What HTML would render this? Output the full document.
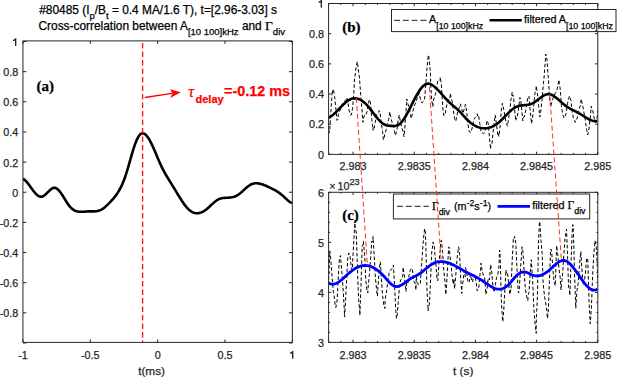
<!DOCTYPE html>
<html><head><meta charset="utf-8"><style>
html,body{margin:0;padding:0;background:#fff;}
body{width:617px;height:377px;overflow:hidden;}
svg{display:block;font-family:"Liberation Sans",sans-serif;}
text{stroke-width:0.25px;}
</style></head><body>
<svg width="617" height="377" viewBox="0 0 617 377">
<rect width="617" height="377" fill="#fff"/>
<!-- title -->
<text x="39.2" y="13.8" font-size="11.9" fill="#000" stroke="#000">#80485 (I<tspan dy="5" font-size="9.5">p</tspan><tspan dy="-5">/B</tspan><tspan dy="5" font-size="9.5">t</tspan><tspan dy="-5"> = 0.4 MA/1.6 T), t=[2.96-3.03] s</tspan></text>
<text x="38.5" y="29.6" font-size="11.9" fill="#000" stroke="#000">Cross-correlation between A<tspan dy="5.5" font-size="9.5">[10 100]kHz</tspan><tspan dy="-5.5"> and </tspan><tspan font-family="Liberation Serif" font-size="13.5">&#915;</tspan><tspan dy="5.5" font-size="9.5">div</tspan></text>
<!-- curves a -->
<g clip-path="url(#ca)">
<path d="M22.90,178.80 L23.90,179.37 L24.90,180.14 L25.90,181.09 L26.90,182.18 L27.90,183.39 L28.90,184.69 L29.90,186.04 L30.90,187.43 L31.90,188.82 L32.90,190.19 L33.90,191.50 L34.90,192.73 L35.90,193.85 L36.90,194.84 L37.90,195.65 L38.90,196.27 L39.90,196.66 L40.90,196.80 L41.90,196.67 L42.90,196.28 L43.90,195.69 L44.90,194.93 L45.90,194.05 L46.90,193.09 L47.90,192.10 L48.90,191.11 L49.90,190.18 L50.90,189.34 L51.90,188.64 L52.90,188.12 L53.90,187.83 L54.90,187.81 L55.90,188.09 L56.90,188.65 L57.90,189.45 L58.90,190.47 L59.90,191.68 L60.90,193.03 L61.90,194.50 L62.90,196.06 L63.90,197.67 L64.90,199.30 L65.90,200.92 L66.90,202.49 L67.90,203.99 L68.90,205.37 L69.90,206.62 L70.90,207.70 L71.90,208.62 L72.90,209.41 L73.90,210.06 L74.90,210.59 L75.90,211.00 L76.90,211.32 L77.90,211.55 L78.90,211.70 L79.90,211.79 L80.90,211.82 L81.90,211.80 L82.90,211.76 L83.90,211.69 L84.90,211.60 L85.90,211.52 L86.90,211.45 L87.90,211.40 L88.90,211.38 L89.90,211.38 L90.90,211.39 L91.90,211.40 L92.90,211.40 L93.90,211.38 L94.90,211.33 L95.90,211.24 L96.90,211.10 L97.90,210.90 L98.90,210.62 L99.90,210.27 L100.90,209.82 L101.90,209.28 L102.90,208.65 L103.90,207.94 L104.90,207.16 L105.90,206.31 L106.90,205.39 L107.90,204.43 L108.90,203.42 L109.90,202.38 L110.90,201.30 L111.90,200.20 L112.90,199.07 L113.90,197.89 L114.90,196.65 L115.90,195.34 L116.90,193.93 L117.90,192.41 L118.90,190.77 L119.90,189.00 L120.90,187.07 L121.90,184.97 L122.90,182.68 L123.90,180.20 L124.90,177.50 L125.90,174.58 L126.90,171.42 L127.90,168.09 L128.90,164.63 L129.90,161.11 L130.90,157.59 L131.90,154.12 L132.90,150.76 L133.90,147.57 L134.90,144.61 L135.90,141.93 L136.90,139.57 L137.90,137.57 L138.90,135.93 L139.90,134.70 L140.90,133.86 L141.90,133.41 L142.90,133.31 L143.90,133.55 L144.90,134.09 L145.90,134.92 L146.90,136.02 L147.90,137.35 L148.90,138.90 L149.90,140.64 L150.90,142.54 L151.90,144.59 L152.90,146.75 L153.90,149.01 L154.90,151.33 L155.90,153.70 L156.90,156.08 L157.90,158.45 L158.90,160.78 L159.90,163.06 L160.90,165.25 L161.90,167.33 L162.90,169.32 L163.90,171.22 L164.90,173.05 L165.90,174.81 L166.90,176.51 L167.90,178.18 L168.90,179.81 L169.90,181.41 L170.90,183.01 L171.90,184.61 L172.90,186.21 L173.90,187.84 L174.90,189.48 L175.90,191.14 L176.90,192.81 L177.90,194.47 L178.90,196.12 L179.90,197.74 L180.90,199.32 L181.90,200.87 L182.90,202.35 L183.90,203.78 L184.90,205.14 L185.90,206.41 L186.90,207.59 L187.90,208.67 L188.90,209.64 L189.90,210.49 L190.90,211.23 L191.90,211.84 L192.90,212.34 L193.90,212.73 L194.90,213.01 L195.90,213.19 L196.90,213.26 L197.90,213.23 L198.90,213.10 L199.90,212.88 L200.90,212.57 L201.90,212.17 L202.90,211.68 L203.90,211.11 L204.90,210.46 L205.90,209.73 L206.90,208.92 L207.90,208.07 L208.90,207.17 L209.90,206.24 L210.90,205.30 L211.90,204.36 L212.90,203.44 L213.90,202.56 L214.90,201.72 L215.90,200.95 L216.90,200.25 L217.90,199.65 L218.90,199.15 L219.90,198.76 L220.90,198.46 L221.90,198.24 L222.90,198.08 L223.90,197.97 L224.90,197.89 L225.90,197.82 L226.90,197.76 L227.90,197.70 L228.90,197.63 L229.90,197.54 L230.90,197.41 L231.90,197.25 L232.90,197.04 L233.90,196.77 L234.90,196.43 L235.90,196.02 L236.90,195.52 L237.90,194.92 L238.90,194.23 L239.90,193.46 L240.90,192.63 L241.90,191.76 L242.90,190.85 L243.90,189.94 L244.90,189.02 L245.90,188.13 L246.90,187.27 L247.90,186.46 L248.90,185.72 L249.90,185.06 L250.90,184.51 L251.90,184.06 L252.90,183.72 L253.90,183.47 L254.90,183.32 L255.90,183.25 L256.90,183.26 L257.90,183.34 L258.90,183.48 L259.90,183.69 L260.90,183.95 L261.90,184.25 L262.90,184.59 L263.90,184.97 L264.90,185.38 L265.90,185.80 L266.90,186.24 L267.90,186.69 L268.90,187.14 L269.90,187.60 L270.90,188.08 L271.90,188.56 L272.90,189.07 L273.90,189.59 L274.90,190.15 L275.90,190.72 L276.90,191.34 L277.90,191.98 L278.90,192.67 L279.90,193.39 L280.90,194.16 L281.90,194.98 L282.90,195.85 L283.90,196.77 L284.90,197.70 L285.90,198.65 L286.90,199.57 L287.90,200.46 L288.90,201.28 L289.90,202.02 L290.90,202.67 L291.90,203.18" fill="none" stroke="#000" stroke-width="2.6" stroke-linejoin="round"/>
</g>
<line x1="142.6" y1="43" x2="142.6" y2="342.3" stroke="#ff1a1a" stroke-width="1.4" stroke-dasharray="5.5 3"/>
<!-- (b) noise & filtered -->
<defs>
<clipPath id="ca"><rect x="22.95" y="40.9" width="269.40000000000003" height="301.5"/></clipPath>
<clipPath id="cb"><rect x="328.6" y="3.5" width="269.19999999999993" height="150.9"/></clipPath>
<clipPath id="cc"><rect x="328.6" y="192.3" width="269.19999999999993" height="150.09999999999997"/></clipPath>
</defs>
<g clip-path="url(#cb)">
<path d="M328.60,130.00 L329.50,132.50 L329.80,128.88 L331.00,109.95 L332.20,91.34 L332.40,93.10 L333.40,88.90 L334.60,96.48 L335.80,108.08 L337.00,120.39 L338.20,118.99 L338.20,115.00 L339.40,112.08 L340.60,108.39 L341.80,104.63 L343.00,103.26 L344.20,102.18 L345.40,100.05 L346.60,99.64 L347.00,97.50 L347.80,100.93 L349.00,109.96 L350.20,114.79 L351.30,115.00 L351.40,114.78 L352.60,108.35 L353.80,93.12 L354.50,80.00 L355.00,76.01 L356.20,66.86 L357.20,62.00 L357.40,61.62 L358.60,72.19 L359.50,78.00 L359.80,82.63 L361.00,98.41 L362.20,112.21 L363.00,122.30 L363.40,118.57 L364.60,114.82 L365.80,115.00 L367.00,111.94 L368.20,104.42 L369.40,99.53 L370.30,101.90 L370.60,104.17 L371.80,119.40 L373.00,130.23 L373.20,126.60 L374.20,128.20 L375.40,121.22 L376.60,114.79 L377.80,113.43 L379.00,112.36 L379.00,110.60 L380.20,113.70 L381.40,123.94 L382.60,131.82 L383.40,139.80 L383.80,139.47 L385.00,133.28 L386.20,129.31 L387.40,124.47 L388.60,119.39 L389.80,111.87 L390.70,116.40 L391.00,118.32 L392.20,122.84 L393.40,124.75 L394.60,131.53 L395.00,135.40 L395.80,134.25 L397.00,129.26 L398.20,118.90 L399.40,115.00 L399.40,116.40 L400.60,122.24 L401.80,128.06 L403.00,131.06 L403.80,135.40 L404.20,136.78 L405.40,119.12 L406.60,103.47 L406.70,98.90 L407.80,103.51 L409.00,107.29 L410.20,112.66 L411.00,118.00 L411.40,118.52 L412.60,112.35 L413.80,107.44 L415.00,104.29 L416.20,101.35 L417.40,97.14 L418.40,96.00 L418.60,90.23 L419.80,95.96 L421.00,101.74 L422.20,102.82 L423.40,101.43 L424.20,100.40 L424.60,99.16 L425.80,84.65 L426.50,75.00 L427.00,68.20 L428.20,55.70 L428.60,55.00 L429.40,62.03 L430.50,74.00 L430.60,84.04 L431.80,101.26 L433.00,106.80 L433.00,103.30 L434.20,97.55 L435.40,94.67 L436.60,88.24 L437.80,80.05 L439.00,80.56 L440.20,79.35 L440.20,77.10 L441.40,84.47 L442.60,105.10 L443.20,112.00 L443.80,115.67 L445.00,114.99 L446.20,107.83 L447.40,102.59 L448.60,99.54 L449.80,99.36 L450.40,93.10 L451.00,97.77 L452.20,101.26 L453.40,110.61 L454.60,118.54 L454.80,119.30 L455.80,121.29 L457.00,114.87 L458.20,110.30 L459.40,107.58 L460.60,103.86 L460.70,106.20 L461.80,109.32 L463.00,113.32 L464.20,109.05 L464.50,107.70 L465.40,104.39 L466.60,111.02 L467.80,122.82 L469.00,130.90 L470.20,132.48 L470.30,131.00 L471.40,130.80 L472.60,126.23 L473.80,119.82 L475.00,117.69 L476.20,116.39 L477.40,113.81 L477.60,116.40 L478.60,115.43 L479.80,123.52 L481.00,131.61 L482.00,132.50 L482.20,132.72 L483.40,133.85 L484.60,132.60 L485.80,127.98 L487.00,120.45 L487.80,122.30 L488.20,123.30 L489.40,136.74 L490.60,149.21 L490.70,145.60 L491.80,145.28 L493.00,132.91 L494.20,122.46 L495.10,115.00 L495.40,115.90 L496.60,125.68 L497.80,134.46 L498.00,132.50 L499.00,136.41 L500.20,124.94 L501.40,109.35 L502.40,103.30 L502.60,104.22 L503.80,109.79 L505.00,116.47 L506.20,123.47 L506.70,123.70 L507.40,126.18 L508.60,118.30 L509.80,110.03 L511.00,99.28 L512.20,92.24 L512.60,96.00 L513.40,95.32 L514.60,110.01 L515.80,120.77 L516.00,118.00 L517.00,118.56 L518.20,111.14 L519.40,101.34 L519.90,97.50 L520.60,98.64 L521.80,110.62 L522.80,120.80 L523.00,117.64 L524.20,116.96 L525.40,112.19 L526.60,105.62 L527.80,97.51 L528.60,96.00 L529.00,96.69 L530.20,110.65 L531.40,122.54 L531.50,123.70 L532.60,118.04 L533.80,104.89 L535.00,92.20 L535.90,91.60 L536.20,85.71 L537.40,93.63 L538.60,105.15 L539.80,116.92 L540.30,115.00 L541.00,109.35 L542.20,98.55 L543.40,83.36 L544.00,78.00 L544.60,69.87 L545.80,54.02 L546.10,56.00 L547.00,59.25 L548.00,75.00 L548.20,76.11 L549.40,94.11 L550.50,106.20 L550.60,107.26 L551.80,101.96 L553.00,98.38 L554.20,95.54 L555.40,92.80 L556.60,91.88 L557.80,85.78 L559.00,79.81 L559.20,82.90 L560.20,88.82 L561.40,105.27 L562.60,114.47 L563.60,116.40 L563.80,118.01 L565.00,116.59 L566.20,113.17 L567.40,103.84 L568.60,98.88 L569.40,96.00 L569.80,97.05 L571.00,100.69 L572.20,111.60 L573.40,117.86 L574.60,120.46 L575.20,122.30 L575.80,119.40 L577.00,118.85 L578.20,114.49 L579.40,108.33 L580.60,104.39 L581.10,98.90 L581.80,101.86 L583.00,107.28 L584.20,113.86 L585.40,120.75 L586.60,129.50 L587.80,134.82 L588.40,131.00 L589.00,128.83 L590.20,117.91 L591.30,106.20 L591.40,107.90 L592.60,109.29 L593.80,116.65 L595.00,122.07 L595.70,122.30 L596.20,121.58 L597.40,115.78 L597.80,110.00" fill="none" stroke="#000" stroke-width="1.0" stroke-dasharray="3.5 2.2"/>
<path d="M328.50,117.80 L329.50,117.29 L330.50,116.69 L331.50,116.00 L332.50,115.23 L333.50,114.39 L334.50,113.49 L335.50,112.55 L336.50,111.57 L337.50,110.55 L338.50,109.52 L339.50,108.48 L340.50,107.44 L341.50,106.42 L342.50,105.41 L343.50,104.43 L344.50,103.49 L345.50,102.60 L346.50,101.78 L347.50,101.02 L348.50,100.34 L349.50,99.74 L350.50,99.25 L351.50,98.86 L352.50,98.58 L353.50,98.40 L354.50,98.32 L355.50,98.34 L356.50,98.46 L357.50,98.68 L358.50,98.99 L359.50,99.39 L360.50,99.88 L361.50,100.46 L362.50,101.13 L363.50,101.89 L364.50,102.73 L365.50,103.65 L366.50,104.66 L367.50,105.74 L368.50,106.90 L369.50,108.11 L370.50,109.37 L371.50,110.66 L372.50,111.98 L373.50,113.30 L374.50,114.61 L375.50,115.90 L376.50,117.17 L377.50,118.38 L378.50,119.54 L379.50,120.63 L380.50,121.64 L381.50,122.54 L382.50,123.34 L383.50,124.01 L384.50,124.55 L385.50,124.97 L386.50,125.28 L387.50,125.50 L388.50,125.66 L389.50,125.77 L390.50,125.84 L391.50,125.90 L392.50,125.95 L393.50,125.97 L394.50,125.93 L395.50,125.81 L396.50,125.59 L397.50,125.24 L398.50,124.74 L399.50,124.07 L400.50,123.23 L401.50,122.20 L402.50,121.00 L403.50,119.63 L404.50,118.13 L405.50,116.51 L406.50,114.78 L407.50,112.96 L408.50,111.07 L409.50,109.12 L410.50,107.14 L411.50,105.14 L412.50,103.14 L413.50,101.16 L414.50,99.20 L415.50,97.30 L416.50,95.46 L417.50,93.71 L418.50,92.05 L419.50,90.51 L420.50,89.10 L421.50,87.81 L422.50,86.68 L423.50,85.71 L424.50,84.91 L425.50,84.29 L426.50,83.87 L427.50,83.65 L428.50,83.65 L429.50,83.84 L430.50,84.19 L431.50,84.69 L432.50,85.30 L433.50,86.00 L434.50,86.78 L435.50,87.64 L436.50,88.56 L437.50,89.55 L438.50,90.58 L439.50,91.64 L440.50,92.74 L441.50,93.86 L442.50,94.99 L443.50,96.13 L444.50,97.25 L445.50,98.37 L446.50,99.45 L447.50,100.51 L448.50,101.52 L449.50,102.49 L450.50,103.40 L451.50,104.28 L452.50,105.14 L453.50,105.98 L454.50,106.82 L455.50,107.66 L456.50,108.53 L457.50,109.42 L458.50,110.35 L459.50,111.34 L460.50,112.38 L461.50,113.48 L462.50,114.61 L463.50,115.75 L464.50,116.89 L465.50,117.99 L466.50,119.04 L467.50,120.04 L468.50,120.97 L469.50,121.86 L470.50,122.69 L471.50,123.46 L472.50,124.17 L473.50,124.83 L474.50,125.43 L475.50,125.98 L476.50,126.47 L477.50,126.90 L478.50,127.27 L479.50,127.59 L480.50,127.85 L481.50,128.06 L482.50,128.20 L483.50,128.29 L484.50,128.32 L485.50,128.30 L486.50,128.21 L487.50,128.07 L488.50,127.87 L489.50,127.61 L490.50,127.29 L491.50,126.92 L492.50,126.48 L493.50,125.99 L494.50,125.44 L495.50,124.83 L496.50,124.16 L497.50,123.44 L498.50,122.65 L499.50,121.80 L500.50,120.90 L501.50,119.96 L502.50,118.98 L503.50,117.97 L504.50,116.95 L505.50,115.92 L506.50,114.89 L507.50,113.87 L508.50,112.87 L509.50,111.91 L510.50,110.98 L511.50,110.11 L512.50,109.29 L513.50,108.54 L514.50,107.87 L515.50,107.29 L516.50,106.80 L517.50,106.40 L518.50,106.08 L519.50,105.83 L520.50,105.63 L521.50,105.48 L522.50,105.35 L523.50,105.25 L524.50,105.16 L525.50,105.06 L526.50,104.95 L527.50,104.81 L528.50,104.64 L529.50,104.42 L530.50,104.14 L531.50,103.79 L532.50,103.35 L533.50,102.83 L534.50,102.22 L535.50,101.55 L536.50,100.82 L537.50,100.07 L538.50,99.29 L539.50,98.52 L540.50,97.76 L541.50,97.03 L542.50,96.34 L543.50,95.72 L544.50,95.18 L545.50,94.73 L546.50,94.39 L547.50,94.17 L548.50,94.10 L549.50,94.18 L550.50,94.40 L551.50,94.75 L552.50,95.21 L553.50,95.78 L554.50,96.43 L555.50,97.16 L556.50,97.95 L557.50,98.79 L558.50,99.66 L559.50,100.56 L560.50,101.46 L561.50,102.36 L562.50,103.24 L563.50,104.09 L564.50,104.89 L565.50,105.65 L566.50,106.36 L567.50,107.02 L568.50,107.65 L569.50,108.25 L570.50,108.83 L571.50,109.38 L572.50,109.91 L573.50,110.43 L574.50,110.95 L575.50,111.46 L576.50,111.97 L577.50,112.49 L578.50,113.03 L579.50,113.58 L580.50,114.15 L581.50,114.75 L582.50,115.36 L583.50,115.99 L584.50,116.63 L585.50,117.25 L586.50,117.86 L587.50,118.45 L588.50,119.00 L589.50,119.51 L590.50,119.97 L591.50,120.37 L592.50,120.69 L593.50,120.94 L594.50,121.09 L595.50,121.15 L596.50,121.10 L597.50,120.94" fill="none" stroke="#000" stroke-width="2.6" stroke-linejoin="round"/>
</g>
<g clip-path="url(#cc)">
<path d="M328.60,280.00 L329.80,250.89 L330.50,256.40 L331.00,262.11 L332.20,278.74 L333.40,292.13 L334.60,298.83 L335.00,304.00 L335.80,307.56 L337.00,302.07 L338.20,280.10 L339.40,258.06 L340.60,255.57 L340.70,259.60 L341.80,271.22 L343.00,287.18 L344.20,307.77 L344.60,317.00 L345.40,303.15 L346.60,280.30 L347.80,257.29 L348.70,253.20 L349.00,253.01 L350.20,257.02 L351.40,268.94 L352.50,270.00 L352.60,262.38 L353.80,240.95 L355.00,220.29 L355.10,227.00 L356.20,231.83 L357.40,266.52 L358.60,299.54 L359.80,310.97 L359.80,315.30 L361.00,285.41 L362.20,245.79 L363.00,245.00 L363.40,241.19 L364.60,254.80 L365.80,279.76 L367.00,291.03 L367.80,293.00 L368.20,286.12 L369.40,274.24 L370.60,258.39 L371.80,240.97 L372.60,242.00 L373.00,236.63 L374.20,255.73 L375.40,277.52 L376.60,289.74 L377.40,296.20 L377.80,289.40 L379.00,272.76 L380.20,261.83 L380.50,262.80 L381.40,279.01 L382.60,295.85 L383.80,305.12 L385.00,308.48 L385.00,300.00 L386.20,293.71 L387.40,284.74 L388.60,279.46 L389.00,272.00 L389.80,270.65 L391.00,269.62 L392.20,268.78 L393.30,266.00 L393.40,265.21 L394.60,285.84 L395.80,311.27 L396.50,318.50 L397.00,316.97 L398.20,302.70 L399.40,287.39 L400.60,279.84 L401.80,279.02 L402.80,275.50 L403.00,267.24 L404.20,274.31 L405.40,286.34 L406.00,291.40 L406.60,282.87 L407.80,284.04 L409.00,275.33 L410.20,270.54 L411.40,268.30 L412.40,269.00 L412.60,270.93 L413.80,281.34 L415.00,283.06 L416.00,290.00 L416.20,276.54 L417.40,282.58 L418.60,285.12 L419.80,284.03 L420.30,283.50 L421.00,273.56 L422.20,256.52 L423.40,239.34 L424.60,229.06 L425.10,229.00 L425.80,242.96 L427.00,290.10 L428.20,310.92 L428.30,307.40 L429.40,304.42 L430.60,279.34 L431.80,251.07 L433.00,244.50 L433.00,242.00 L434.20,245.44 L435.40,259.41 L436.60,272.38 L437.00,280.00 L437.80,280.74 L439.00,262.57 L440.20,250.55 L441.00,240.50 L441.40,240.33 L442.60,252.39 L443.80,270.18 L445.00,281.83 L445.80,294.60 L446.20,290.66 L447.40,271.44 L448.60,247.39 L449.00,246.80 L449.80,253.91 L451.00,264.33 L452.20,277.14 L453.40,284.29 L453.80,278.70 L454.60,288.82 L455.80,275.00 L457.00,259.19 L458.20,249.35 L458.60,246.80 L459.40,250.38 L460.60,275.95 L461.80,293.53 L462.00,285.00 L463.00,282.40 L464.20,270.57 L465.40,276.71 L465.50,267.50 L466.60,271.11 L467.80,281.24 L469.00,280.25 L469.40,281.90 L470.20,273.93 L471.40,278.86 L472.60,282.01 L473.80,274.40 L474.00,275.50 L475.00,275.88 L476.20,282.57 L477.00,290.00 L477.40,290.90 L478.60,288.88 L479.80,276.15 L480.50,270.70 L481.00,263.14 L482.20,271.07 L483.40,275.54 L484.60,277.16 L485.30,286.70 L485.80,294.39 L487.00,289.95 L488.20,278.18 L489.40,279.92 L490.00,274.00 L490.60,264.51 L491.80,272.50 L493.00,286.80 L494.00,292.00 L494.20,292.11 L495.40,284.37 L496.60,277.34 L497.80,274.92 L499.00,265.75 L499.60,250.00 L500.20,257.25 L501.40,301.91 L502.60,320.64 L502.80,321.70 L503.80,309.71 L505.00,287.07 L506.00,270.00 L506.20,272.78 L507.40,271.94 L508.60,282.84 L509.80,294.45 L510.80,289.80 L511.00,290.28 L512.20,260.24 L513.40,238.22 L514.00,238.90 L514.60,236.50 L515.80,243.14 L517.00,268.88 L518.20,292.04 L518.70,293.00 L519.40,286.95 L520.60,267.79 L521.80,251.15 L522.00,246.80 L523.00,252.22 L524.20,273.31 L525.40,289.01 L526.60,296.19 L527.80,300.70 L528.30,294.60 L529.00,292.56 L530.20,272.65 L531.40,259.69 L531.50,264.40 L532.60,278.62 L533.80,307.20 L535.00,322.79 L536.20,333.35 L536.20,323.30 L537.40,296.39 L538.60,239.47 L539.40,223.00 L539.80,221.52 L541.00,240.47 L542.20,254.16 L543.00,280.00 L543.40,286.00 L544.60,297.11 L545.80,303.93 L547.00,312.15 L547.40,318.50 L548.20,313.18 L549.40,281.17 L550.60,249.55 L551.00,249.00 L551.80,253.20 L553.00,270.92 L554.20,282.43 L555.40,285.76 L555.40,281.90 L556.60,245.53 L557.00,249.00 L557.80,254.72 L559.00,268.89 L560.20,277.47 L561.00,290.00 L561.40,284.64 L562.60,274.75 L563.80,255.44 L565.00,238.47 L566.20,231.38 L566.50,229.30 L567.40,250.83 L568.60,287.60 L569.50,290.00 L569.80,295.44 L571.00,263.52 L572.20,232.00 L572.90,224.60 L573.40,231.28 L574.60,275.02 L575.80,308.26 L576.00,304.20 L577.00,290.18 L578.20,283.22 L579.40,266.39 L580.60,253.11 L580.80,251.60 L581.80,267.20 L583.00,284.66 L584.00,285.00 L584.20,282.95 L585.40,273.27 L586.60,258.88 L587.20,258.00 L587.80,260.30 L589.00,299.61 L590.20,323.76 L590.40,321.70 L591.40,307.85 L592.60,275.80 L593.80,254.63 L595.00,240.70 L595.20,242.00 L596.20,245.93 L597.40,267.45 L597.80,280.00" fill="none" stroke="#000" stroke-width="1.0" stroke-dasharray="3.5 2.2"/>
<path d="M328.50,282.83 L329.50,283.43 L330.50,283.85 L331.50,284.11 L332.50,284.21 L333.50,284.16 L334.50,283.99 L335.50,283.69 L336.50,283.27 L337.50,282.76 L338.50,282.16 L339.50,281.47 L340.50,280.72 L341.50,279.91 L342.50,279.06 L343.50,278.16 L344.50,277.24 L345.50,276.31 L346.50,275.37 L347.50,274.44 L348.50,273.53 L349.50,272.65 L350.50,271.81 L351.50,271.01 L352.50,270.26 L353.50,269.57 L354.50,268.92 L355.50,268.33 L356.50,267.79 L357.50,267.31 L358.50,266.88 L359.50,266.51 L360.50,266.19 L361.50,265.93 L362.50,265.74 L363.50,265.60 L364.50,265.52 L365.50,265.51 L366.50,265.56 L367.50,265.68 L368.50,265.86 L369.50,266.10 L370.50,266.41 L371.50,266.78 L372.50,267.21 L373.50,267.70 L374.50,268.25 L375.50,268.86 L376.50,269.53 L377.50,270.26 L378.50,271.04 L379.50,271.88 L380.50,272.77 L381.50,273.72 L382.50,274.72 L383.50,275.78 L384.50,276.88 L385.50,278.02 L386.50,279.17 L387.50,280.31 L388.50,281.42 L389.50,282.47 L390.50,283.45 L391.50,284.34 L392.50,285.10 L393.50,285.72 L394.50,286.18 L395.50,286.46 L396.50,286.56 L397.50,286.50 L398.50,286.29 L399.50,285.96 L400.50,285.52 L401.50,284.99 L402.50,284.39 L403.50,283.73 L404.50,283.02 L405.50,282.28 L406.50,281.53 L407.50,280.77 L408.50,280.03 L409.50,279.31 L410.50,278.64 L411.50,278.02 L412.50,277.47 L413.50,276.98 L414.50,276.51 L415.50,276.04 L416.50,275.56 L417.50,275.02 L418.50,274.42 L419.50,273.76 L420.50,273.06 L421.50,272.31 L422.50,271.53 L423.50,270.72 L424.50,269.91 L425.50,269.09 L426.50,268.27 L427.50,267.46 L428.50,266.67 L429.50,265.92 L430.50,265.20 L431.50,264.53 L432.50,263.91 L433.50,263.36 L434.50,262.89 L435.50,262.49 L436.50,262.16 L437.50,261.91 L438.50,261.72 L439.50,261.60 L440.50,261.54 L441.50,261.54 L442.50,261.60 L443.50,261.71 L444.50,261.87 L445.50,262.07 L446.50,262.33 L447.50,262.62 L448.50,262.95 L449.50,263.32 L450.50,263.72 L451.50,264.15 L452.50,264.61 L453.50,265.09 L454.50,265.60 L455.50,266.12 L456.50,266.65 L457.50,267.20 L458.50,267.76 L459.50,268.33 L460.50,268.90 L461.50,269.47 L462.50,270.04 L463.50,270.60 L464.50,271.15 L465.50,271.70 L466.50,272.23 L467.50,272.75 L468.50,273.26 L469.50,273.76 L470.50,274.26 L471.50,274.75 L472.50,275.25 L473.50,275.75 L474.50,276.26 L475.50,276.77 L476.50,277.29 L477.50,277.83 L478.50,278.38 L479.50,278.95 L480.50,279.54 L481.50,280.16 L482.50,280.80 L483.50,281.46 L484.50,282.14 L485.50,282.84 L486.50,283.53 L487.50,284.22 L488.50,284.90 L489.50,285.55 L490.50,286.18 L491.50,286.77 L492.50,287.31 L493.50,287.81 L494.50,288.24 L495.50,288.60 L496.50,288.89 L497.50,289.10 L498.50,289.21 L499.50,289.22 L500.50,289.13 L501.50,288.94 L502.50,288.65 L503.50,288.25 L504.50,287.75 L505.50,287.15 L506.50,286.44 L507.50,285.64 L508.50,284.73 L509.50,283.72 L510.50,282.61 L511.50,281.41 L512.50,280.18 L513.50,278.94 L514.50,277.73 L515.50,276.61 L516.50,275.59 L517.50,274.71 L518.50,273.95 L519.50,273.32 L520.50,272.81 L521.50,272.42 L522.50,272.16 L523.50,272.03 L524.50,272.01 L525.50,272.12 L526.50,272.36 L527.50,272.71 L528.50,273.16 L529.50,273.66 L530.50,274.18 L531.50,274.68 L532.50,275.13 L533.50,275.48 L534.50,275.73 L535.50,275.89 L536.50,275.95 L537.50,275.93 L538.50,275.82 L539.50,275.63 L540.50,275.36 L541.50,275.01 L542.50,274.60 L543.50,274.11 L544.50,273.55 L545.50,272.93 L546.50,272.25 L547.50,271.52 L548.50,270.73 L549.50,269.89 L550.50,269.00 L551.50,268.09 L552.50,267.16 L553.50,266.23 L554.50,265.32 L555.50,264.44 L556.50,263.61 L557.50,262.84 L558.50,262.15 L559.50,261.55 L560.50,261.06 L561.50,260.70 L562.50,260.48 L563.50,260.41 L564.50,260.51 L565.50,260.79 L566.50,261.23 L567.50,261.82 L568.50,262.55 L569.50,263.40 L570.50,264.37 L571.50,265.45 L572.50,266.61 L573.50,267.85 L574.50,269.15 L575.50,270.51 L576.50,271.91 L577.50,273.34 L578.50,274.78 L579.50,276.23 L580.50,277.67 L581.50,279.09 L582.50,280.48 L583.50,281.83 L584.50,283.11 L585.50,284.33 L586.50,285.47 L587.50,286.51 L588.50,287.45 L589.50,288.27 L590.50,288.96 L591.50,289.51 L592.50,289.90 L593.50,290.13 L594.50,290.18 L595.50,290.04 L596.50,289.69 L597.50,289.13" fill="none" stroke="#0000ff" stroke-width="2.8" stroke-linejoin="round"/>
</g>
<!-- axes -->
<path d="M22.95,40.9 H292.35 V342.4 H22.95 Z M328.6,3.5 H597.8 V154.4 H328.6 Z M328.6,192.3 H597.8 V342.4 H328.6 Z" fill="none" stroke="#262626" stroke-width="1"/>
<path d="M22.95,342.4 v-3 M22.95,40.9 v3 M90.30,342.4 v-3 M90.30,40.9 v3 M157.65,342.4 v-3 M157.65,40.9 v3 M225.00,342.4 v-3 M225.00,40.9 v3 M292.35,342.4 v-3 M292.35,40.9 v3 M22.95,343.00 h3.4 M292.35,343.00 h-3.4 M22.95,312.85 h3.4 M292.35,312.85 h-3.4 M22.95,282.70 h3.4 M292.35,282.70 h-3.4 M22.95,252.55 h3.4 M292.35,252.55 h-3.4 M22.95,222.40 h3.4 M292.35,222.40 h-3.4 M22.95,192.25 h3.4 M292.35,192.25 h-3.4 M22.95,162.10 h3.4 M292.35,162.10 h-3.4 M22.95,131.95 h3.4 M292.35,131.95 h-3.4 M22.95,101.80 h3.4 M292.35,101.80 h-3.4 M22.95,71.65 h3.4 M292.35,71.65 h-3.4 M22.95,41.50 h3.4 M292.35,41.50 h-3.4 M328.60,154.4 v-1.5 M328.60,3.5 v1.5 M340.84,154.4 v-1.5 M340.84,3.5 v1.5 M353.07,154.4 v-2.7 M353.07,3.5 v2.7 M365.31,154.4 v-1.5 M365.31,3.5 v1.5 M377.55,154.4 v-1.5 M377.55,3.5 v1.5 M389.78,154.4 v-1.5 M389.78,3.5 v1.5 M402.02,154.4 v-1.5 M402.02,3.5 v1.5 M414.25,154.4 v-2.7 M414.25,3.5 v2.7 M426.49,154.4 v-1.5 M426.49,3.5 v1.5 M438.73,154.4 v-1.5 M438.73,3.5 v1.5 M450.96,154.4 v-1.5 M450.96,3.5 v1.5 M463.20,154.4 v-1.5 M463.20,3.5 v1.5 M475.44,154.4 v-2.7 M475.44,3.5 v2.7 M487.67,154.4 v-1.5 M487.67,3.5 v1.5 M499.91,154.4 v-1.5 M499.91,3.5 v1.5 M512.15,154.4 v-1.5 M512.15,3.5 v1.5 M524.38,154.4 v-1.5 M524.38,3.5 v1.5 M536.62,154.4 v-2.7 M536.62,3.5 v2.7 M548.85,154.4 v-1.5 M548.85,3.5 v1.5 M561.09,154.4 v-1.5 M561.09,3.5 v1.5 M573.33,154.4 v-1.5 M573.33,3.5 v1.5 M585.56,154.4 v-1.5 M585.56,3.5 v1.5 M597.80,154.4 v-2.7 M597.80,3.5 v2.7 M328.60,342.4 v-1.5 M328.60,192.3 v1.5 M340.84,342.4 v-1.5 M340.84,192.3 v1.5 M353.07,342.4 v-2.7 M353.07,192.3 v2.7 M365.31,342.4 v-1.5 M365.31,192.3 v1.5 M377.55,342.4 v-1.5 M377.55,192.3 v1.5 M389.78,342.4 v-1.5 M389.78,192.3 v1.5 M402.02,342.4 v-1.5 M402.02,192.3 v1.5 M414.25,342.4 v-2.7 M414.25,192.3 v2.7 M426.49,342.4 v-1.5 M426.49,192.3 v1.5 M438.73,342.4 v-1.5 M438.73,192.3 v1.5 M450.96,342.4 v-1.5 M450.96,192.3 v1.5 M463.20,342.4 v-1.5 M463.20,192.3 v1.5 M475.44,342.4 v-2.7 M475.44,192.3 v2.7 M487.67,342.4 v-1.5 M487.67,192.3 v1.5 M499.91,342.4 v-1.5 M499.91,192.3 v1.5 M512.15,342.4 v-1.5 M512.15,192.3 v1.5 M524.38,342.4 v-1.5 M524.38,192.3 v1.5 M536.62,342.4 v-2.7 M536.62,192.3 v2.7 M548.85,342.4 v-1.5 M548.85,192.3 v1.5 M561.09,342.4 v-1.5 M561.09,192.3 v1.5 M573.33,342.4 v-1.5 M573.33,192.3 v1.5 M585.56,342.4 v-1.5 M585.56,192.3 v1.5 M597.80,342.4 v-2.7 M597.80,192.3 v2.7 M328.6,154.40 h2.7 M597.8,154.40 h-2.7 M328.6,124.22 h2.7 M597.8,124.22 h-2.7 M328.6,94.04 h2.7 M597.8,94.04 h-2.7 M328.6,63.86 h2.7 M597.8,63.86 h-2.7 M328.6,33.68 h2.7 M597.8,33.68 h-2.7 M328.6,3.50 h2.7 M597.8,3.50 h-2.7 M328.6,342.40 h2.7 M597.8,342.40 h-2.7 M328.6,332.39 h1.5 M597.8,332.39 h-1.5 M328.6,322.39 h1.5 M597.8,322.39 h-1.5 M328.6,312.38 h1.5 M597.8,312.38 h-1.5 M328.6,302.37 h1.5 M597.8,302.37 h-1.5 M328.6,292.37 h2.7 M597.8,292.37 h-2.7 M328.6,282.36 h1.5 M597.8,282.36 h-1.5 M328.6,272.35 h1.5 M597.8,272.35 h-1.5 M328.6,262.35 h1.5 M597.8,262.35 h-1.5 M328.6,252.34 h1.5 M597.8,252.34 h-1.5 M328.6,242.33 h2.7 M597.8,242.33 h-2.7 M328.6,232.33 h1.5 M597.8,232.33 h-1.5 M328.6,222.32 h1.5 M597.8,222.32 h-1.5 M328.6,212.31 h1.5 M597.8,212.31 h-1.5 M328.6,202.31 h1.5 M597.8,202.31 h-1.5 M328.6,192.30 h2.7 M597.8,192.30 h-2.7" fill="none" stroke="#262626" stroke-width="1"/>
<g fill="#262626" stroke="#262626">
<text x="18.30" y="317.35" text-anchor="end" font-size="10.8" >-0.8</text><text x="18.30" y="287.20" text-anchor="end" font-size="10.8" >-0.6</text><text x="18.30" y="257.05" text-anchor="end" font-size="10.8" >-0.4</text><text x="18.30" y="226.90" text-anchor="end" font-size="10.8" >-0.2</text><text x="18.30" y="196.75" text-anchor="end" font-size="10.8" >0</text><text x="18.30" y="166.60" text-anchor="end" font-size="10.8" >0.2</text><text x="18.30" y="136.45" text-anchor="end" font-size="10.8" >0.4</text><text x="18.30" y="106.30" text-anchor="end" font-size="10.8" >0.6</text><text x="18.30" y="76.15" text-anchor="end" font-size="10.8" >0.8</text><path d="M15.66,46.00 V38.27 M15.96,38.67 C15.06,40.07 14.06,40.37 13.06,40.57" fill="none" stroke-width="1.35"/><text x="22.95" y="358.70" text-anchor="middle" font-size="10.8" >-1</text><text x="90.30" y="358.70" text-anchor="middle" font-size="10.8" >-0.5</text><text x="157.65" y="358.70" text-anchor="middle" font-size="10.8" >0</text><text x="225.00" y="358.70" text-anchor="middle" font-size="10.8" >0.5</text><path d="M292.71,358.70 V350.97 M293.01,351.37 C292.11,352.77 291.11,353.07 290.11,353.27" fill="none" stroke-width="1.35"/><text x="151.60" y="374.60" text-anchor="middle" font-size="11.8" >t(ms)</text><text x="324.00" y="158.60" text-anchor="end" font-size="10.8" >0</text><text x="324.00" y="128.42" text-anchor="end" font-size="10.8" >0.2</text><text x="324.00" y="98.24" text-anchor="end" font-size="10.8" >0.4</text><text x="324.00" y="68.06" text-anchor="end" font-size="10.8" >0.6</text><text x="324.00" y="37.88" text-anchor="end" font-size="10.8" >0.8</text><path d="M321.36,7.70 V-0.03 M321.66,0.37 C320.76,1.77 319.76,2.07 318.76,2.27" fill="none" stroke-width="1.35"/><text x="353.07" y="170.20" text-anchor="middle" font-size="10.8" >2.983</text><text x="414.25" y="170.20" text-anchor="middle" font-size="10.8" >2.9835</text><text x="475.44" y="170.20" text-anchor="middle" font-size="10.8" >2.984</text><text x="536.62" y="170.20" text-anchor="middle" font-size="10.8" >2.9845</text><text x="597.80" y="170.20" text-anchor="middle" font-size="10.8" >2.985</text><text x="353.07" y="358.70" text-anchor="middle" font-size="10.8" >2.983</text><text x="414.25" y="358.70" text-anchor="middle" font-size="10.8" >2.9835</text><text x="475.44" y="358.70" text-anchor="middle" font-size="10.8" >2.984</text><text x="536.62" y="358.70" text-anchor="middle" font-size="10.8" >2.9845</text><text x="597.80" y="358.70" text-anchor="middle" font-size="10.8" >2.985</text><text x="324.00" y="346.60" text-anchor="end" font-size="10.8" >3</text><text x="324.00" y="296.57" text-anchor="end" font-size="10.8" >4</text><text x="324.00" y="246.53" text-anchor="end" font-size="10.8" >5</text><text x="324.00" y="196.50" text-anchor="end" font-size="10.8" >6</text><text x="463.20" y="374.80" text-anchor="middle" font-size="11.8" >t (s)</text>
</g>
<!-- panel labels -->
<text x="36.6" y="90.9" font-family="Liberation Serif" font-weight="bold" font-size="15" fill="#000" stroke="#000">(a)</text>
<text x="342.2" y="31.9" font-family="Liberation Serif" font-weight="bold" font-size="15" fill="#000" stroke="#000">(b)</text>
<text x="342.2" y="220.1" font-family="Liberation Serif" font-weight="bold" font-size="15" fill="#000" stroke="#000">(c)</text>
<!-- tau annotation -->
<path d="M144.8,97.5 L172,93.4" stroke="#ff0000" stroke-width="1.3" fill="none"/>
<path d="M180.8,92.2 L170.1,89.2 L172.5,93.5 L170.1,98 Z" fill="#ff0000"/>
<text x="188.2" y="96.6" font-family="Liberation Serif" font-style="italic" font-size="16.5" fill="#ff0000" stroke="#ff0000">&#964;</text>
<text x="195.5" y="102.9" font-size="11" font-weight="bold" fill="#ff0000" stroke="#ff0000">delay</text>
<text x="224.0" y="96.4" font-size="14.4" font-weight="bold" fill="#ff0000" stroke="#ff0000">=-0.12 ms</text>
<!-- x10^23 -->
<g fill="#262626" stroke="#262626"><text x="329.3" y="189.6" font-size="10.8">&#215;</text><text x="337.4" y="190.0" font-size="10.8">10</text><text x="349.4" y="184.6" font-size="9.2">23</text></g>
<!-- legend b -->
<rect x="391.5" y="9.5" width="224.5" height="22.1" fill="#fff" stroke="#262626" stroke-width="1"/>
<line x1="394" y1="20.3" x2="426.4" y2="20.3" stroke="#000" stroke-width="0.9" stroke-dasharray="6 2.8"/>
<text x="429.0" y="22.6" font-size="10.8" fill="#000" stroke="#000">A<tspan dy="6.2" font-size="8.8">[10 100]kHz</tspan></text>
<line x1="489.5" y1="20.3" x2="521.8" y2="20.3" stroke="#000" stroke-width="2.6"/>
<text x="524.0" y="22.6" font-size="10.8" fill="#000" stroke="#000">filtered A<tspan dy="6.2" font-size="8.8">[10 100]kHz</tspan></text>
<!-- legend c -->
<rect x="393.4" y="194.0" width="196.3" height="24.9" fill="#fff" stroke="#262626" stroke-width="1"/>
<line x1="397" y1="206.3" x2="428.7" y2="206.3" stroke="#000" stroke-width="0.9" stroke-dasharray="6 2.8"/>
<text x="432.0" y="210.1" font-size="10.8" fill="#000" stroke="#000"><tspan font-family="Liberation Serif" font-size="11.5">&#915;</tspan><tspan dy="4.4" font-size="8.8">div</tspan><tspan dy="-4.4" dx="1"> (m</tspan><tspan dy="-4.6" font-size="8.8">-2</tspan><tspan dy="4.6">s</tspan><tspan dy="-4.6" font-size="8.8">-1</tspan><tspan dy="4.6">)</tspan></text>
<line x1="497.5" y1="206.3" x2="530" y2="206.3" stroke="#0000ff" stroke-width="2.8"/>
<text x="532.2" y="209.0" font-size="10.8" fill="#000" stroke="#000">filtered <tspan font-family="Liberation Serif" font-size="11.5">&#915;</tspan><tspan dy="5" font-size="8.8">div</tspan></text>
<!-- red connectors -->
<g stroke="#ff2a2a" stroke-width="1.0" stroke-dasharray="5 3">
<line x1="356.3" y1="97.9" x2="367.4" y2="265.8"/>
<line x1="429.4" y1="87" x2="441" y2="259.5"/>
<line x1="549.7" y1="93.7" x2="561.4" y2="260.3"/>
</g>
</svg>
</body></html>
